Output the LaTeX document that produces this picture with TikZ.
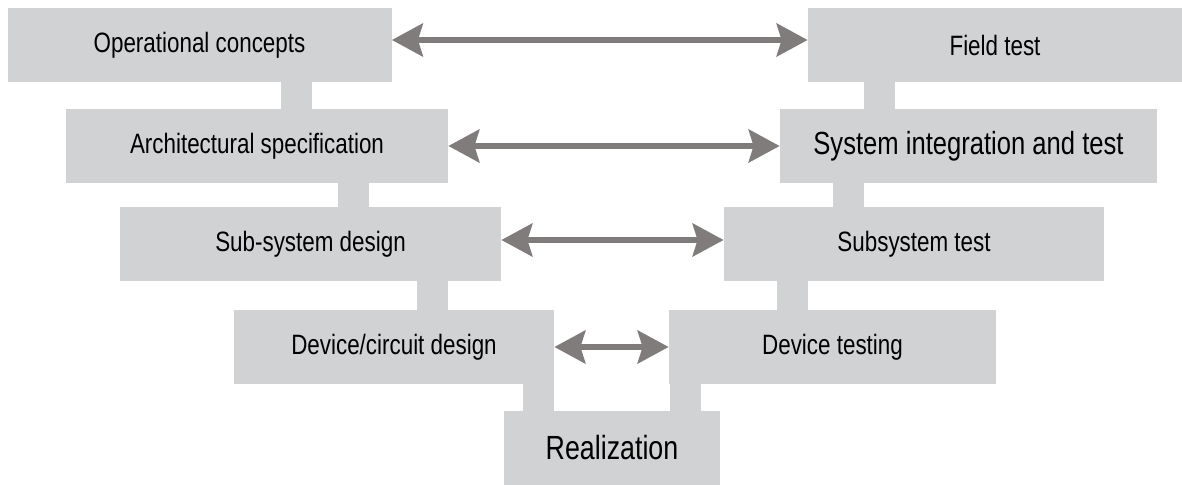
\documentclass[tikz,border=0pt]{standalone}
\usepackage{fontspec}
\setmainfont{Liberation Sans}[FakeStretch=0.8]
\usepackage{xcolor}
\usepackage{tikz}
\usetikzlibrary{arrows.meta,positioning}

\definecolor{boxgray}{RGB}{209,210,212}
\definecolor{arrowgray}{RGB}{128,124,123}

\begin{document}
\begin{tikzpicture}[x=0.5pt, y=-0.5pt,
    stage/.style={fill=boxgray, inner sep=0pt, minimum height=37pt, font=\fontsize{14}{16}\selectfont},
    link/.style={draw=boxgray, line width=15.5pt},
    twoway/.style={draw=arrowgray, line width=2.7pt, {Stealth[length=15.5pt, width=16.5pt, inset=2.5pt]}-{Stealth[length=15.5pt, width=16.5pt, inset=2.5pt]}}]
    \useasboundingbox (0,0) rectangle (1182,485);

    % Left branch (design)
    \node[stage, minimum width=192pt] (op) at (199.5,45) {Operational concepts};
    \node[stage, minimum width=191pt] (as) at (257,146) {Architectural specification};
    \node[stage, minimum width=190.5pt] (sd) at (310.5,244) {Sub-system design};
    \node[stage, minimum width=160pt] (dc) at (394,347) {Device/circuit design};

    % Bottom
    \node[stage, minimum width=108pt, font=\fontsize{16.75}{19}\selectfont] (re) at (612,448) {Realization};

    % Right branch (test)
    \node[stage, minimum width=187pt] (ft) at (995,45) {Field test};
    \node[stage, minimum width=188.5pt, font=\fontsize{16}{18}\selectfont] (si) at (968.5,146) {System integration and test};
    \node[stage, minimum width=190pt] (st) at (914,244) {Subsystem test};
    \node[stage, minimum width=163.5pt] (dt) at (832.5,347) {Device testing};

    % Vertical links
    \draw[link] (op.south -| 296,0) -- (as.north -| 296,0);
    \draw[link] (as.south -| 353,0) -- (sd.north -| 353,0);
    \draw[link] (sd.south -| 432.5,0) -- (dc.north -| 432.5,0);
    \draw[link] (dc.south -| 538.5,0) -- (re.north -| 538.5,0);
    \draw[link] (ft.south -| 879.5,0) -- (si.north -| 879.5,0);
    \draw[link] (si.south -| 848.5,0) -- (st.north -| 848.5,0);
    \draw[link] (st.south -| 792.5,0) -- (dt.north -| 792.5,0);
    \draw[link] (dt.south -| 685,0) -- (re.north -| 685,0);

    % Correspondence arrows
    \draw[twoway] ([yshift=2.5pt]op.east) -- ([yshift=2.5pt]ft.west);
    \draw[twoway] (as.east) -- (si.west);
    \draw[twoway] ([yshift=2pt]sd.east) -- ([yshift=2pt]st.west);
    \draw[twoway] (dc.east) -- (dt.west);
\end{tikzpicture}
\end{document}
